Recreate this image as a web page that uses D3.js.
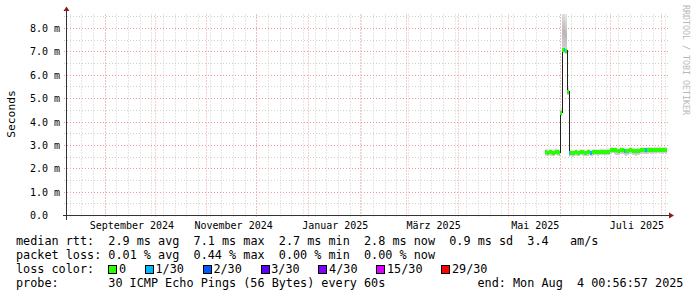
<!DOCTYPE html>
<html>
<head>
<meta charset="utf-8">
<script src="https://cdn.jsdelivr.net/npm/d3@7/dist/d3.min.js"></script>
<style>
  html, body { margin: 0; padding: 0; background: #fff; }
  svg { display: block; }
  text { font-family: "DejaVu Sans Mono", monospace; white-space: pre; }
</style>
</head>
<body>
<div id="chart"></div>
<script>
// smokeping rtt for the last 360 days, one row per day (values in ms)
var firstDay = Date.UTC(2025, 4, 23);
var graphEnd = Date.UTC(2025, 7, 4, 0, 56, 57);

var median = [
  2.70, 2.69, 2.71, 2.70, 2.68, 2.69, 2.72, 2.70, 2.69,
  4.40, 7.10, 7.08, 7.05, 5.30,
  2.67, 2.69, 2.66, 2.67, 2.70, 2.68, 2.69, 2.71, 2.70, 2.69, 2.68, 2.70,
  2.71, 2.69, 2.70, 2.72, 2.71, 2.70, 2.71, 2.73, 2.72, 2.71, 2.72, 2.73, 2.72,
  2.80, 2.81, 2.80, 2.79, 2.77, 2.78, 2.80, 2.79, 2.78, 2.76, 2.77, 2.79, 2.80,
  2.78, 2.77, 2.76, 2.78, 2.77, 2.79, 2.81, 2.80, 2.79, 2.81, 2.82, 2.81, 2.80,
  2.82, 2.81, 2.82, 2.81, 2.82,
  2.81, 2.82, 2.81
];
var smokeLo = [
  2.56, 2.55, 2.57, 2.56, 2.54, 2.55, 2.58, 2.56, 2.55,
  4.25, 6.95, 6.95, 6.92, 5.15,
  2.52, 2.55, 2.51, 2.53, 2.56, 2.54, 2.55, 2.57, 2.55, 2.54, 2.53, 2.56,
  2.57, 2.55, 2.56, 2.58, 2.57, 2.55, 2.57, 2.59, 2.58, 2.56, 2.58, 2.59, 2.58,
  2.64, 2.66, 2.63, 2.60, 2.58, 2.60, 2.63, 2.61, 2.59, 2.56, 2.58, 2.61, 2.63,
  2.60, 2.58, 2.56, 2.59, 2.58, 2.61, 2.65, 2.63, 2.61, 2.64, 2.66, 2.65, 2.63,
  2.66, 2.65, 2.66, 2.64, 2.66,
  2.65, 2.66, 2.65
];
var smokeHi = [
  2.86, 2.85, 2.87, 2.86, 2.84, 2.85, 2.88, 2.86, 2.85,
  4.60, 8.95, 8.90, 8.70, 5.50,
  2.80, 2.83, 2.79, 2.81, 2.84, 2.82, 2.83, 2.86, 2.84, 2.83, 2.82, 2.85,
  2.86, 2.83, 2.84, 2.87, 2.86, 2.84, 2.86, 2.88, 2.87, 2.85, 2.87, 2.88, 2.87,
  2.94, 2.95, 2.93, 2.92, 2.90, 2.91, 2.93, 2.92, 2.91, 2.89, 2.90, 2.92, 2.94,
  2.91, 2.90, 2.89, 2.91, 2.90, 2.92, 2.95, 2.94, 2.92, 2.95, 2.96, 2.95, 2.93,
  2.96, 2.95, 2.96, 2.95, 2.96,
  2.95, 2.96, 2.95
];
// lost pings out of 30
var loss = [
  0, 0, 0, 0, 0, 0, 0, 0, 0,
  0, 0, 1, 0, 0,
  1, 0, 0, 0, 0, 0, 0, 0, 0, 0, 0, 0,
  0, 1, 0, 0, 0, 0, 0, 0, 0, 0, 0, 0, 0,
  0, 0, 0, 0, 0, 0, 0, 0, 1, 0, 0, 0, 0,
  0, 0, 0, 0, 0, 0, 0, 0, 1, 0, 0, 0, 0,
  0, 0, 0, 0, 0,
  0, 0, 0
];

var lossLevels = [0, 1, 2, 3, 4, 15, 29];
var lossLabels = ["0", "1/30", "2/30", "3/30", "4/30", "15/30", "29/30"];
var lossColors = ["#26ff00", "#00b8ff", "#0059ff", "#5e00ff", "#7e00ff", "#dd00ff", "#ff0000"];

var yTicks = [0, 1, 2, 3, 4, 5, 6, 7, 8];
var monthLabels = ["September 2024", "November 2024", "Januar 2025", "März 2025", "Mai 2025", "Juli 2025"];
var monthLabelDates = [Date.UTC(2024, 8, 1), Date.UTC(2024, 10, 1), Date.UTC(2025, 0, 1),
                       Date.UTC(2025, 2, 1), Date.UTC(2025, 4, 1), Date.UTC(2025, 6, 1)];

var rttStats = ["2.9 ms avg", "7.1 ms max", "2.7 ms min", "2.8 ms now", "0.9 ms sd", "3.4   am/s"];
var lossStats = ["0.01 % avg", "0.44 % max", "0.00 % min", "0.00 % now"];
var probeText = "30 ICMP Echo Pings (56 Bytes) every 60s";
var endText = "end: Mon Aug  4 00:56:57 2025";

// ---------------------------------------------------------------
var W = 697, H = 297;
var plotL = 67, plotR = 667, plotT = 14.5, plotB = 215.5;

var svg = d3.select("#chart").append("svg")
  .attr("width", W).attr("height", H);

svg.append("rect").attr("width", W).attr("height", H).attr("fill", "#fff");

var defs = svg.append("defs");
var grad = defs.append("linearGradient").attr("id", "smoke")
  .attr("x1", 0).attr("y1", 0).attr("x2", 0).attr("y2", 1);
grad.append("stop").attr("offset", "0%").attr("stop-color", "#eeeeee");
grad.append("stop").attr("offset", "55%").attr("stop-color", "#b8b8b8");
grad.append("stop").attr("offset", "100%").attr("stop-color", "#d6d6d6");

defs.append("clipPath").attr("id", "plotclip")
  .append("rect").attr("x", plotL).attr("y", plotT - 0.5)
  .attr("width", plotR - plotL).attr("height", plotB - plotT + 1);

var x = d3.scaleUtc()
  .domain([d3.utcDay.offset(new Date(graphEnd), -360), new Date(graphEnd)])
  .range([plotL, plotR]);

var y = d3.scaleLinear()
  .domain([0, 8.6])
  .range([plotB, plotT]);

function crisp(v) { return Math.round(v - 0.5) + 0.5; }

var days = median.map(function (m, i) { return d3.utcDay.offset(new Date(firstDay), i); });

// ---- grid
var grid = svg.append("g");
var yMinor = d3.range(0, 8.6, 0.5).filter(function (v) { return v % 1 !== 0; });
grid.selectAll("line.ymin").data(yMinor).join("line")
  .attr("x1", plotL - 3).attr("x2", plotR + 2)
  .attr("y1", function (d) { return crisp(y(d)); })
  .attr("y2", function (d) { return crisp(y(d)); })
  .attr("stroke", "#cfcfcf").attr("stroke-dasharray", "1,2");

var weeks = d3.utcSunday.range(x.domain()[0], x.domain()[1]);
grid.selectAll("line.xmin").data(weeks).join("line")
  .attr("x1", function (d) { return crisp(x(d)); })
  .attr("x2", function (d) { return crisp(x(d)); })
  .attr("y1", plotT).attr("y2", plotB + 2)
  .attr("stroke", "#cfcfcf").attr("stroke-dasharray", "1,2");

grid.selectAll("line.ymaj").data(yTicks.slice(1)).join("line")
  .attr("x1", plotL - 3).attr("x2", plotR + 2)
  .attr("y1", function (d) { return crisp(y(d)); })
  .attr("y2", function (d) { return crisp(y(d)); })
  .attr("stroke", "#f09a9a").attr("stroke-dasharray", "1,2");

var months = d3.utcMonth.range(x.domain()[0], x.domain()[1]);
grid.selectAll("line.xmaj").data(months).join("line")
  .attr("x1", function (d) { return crisp(x(d)); })
  .attr("x2", function (d) { return crisp(x(d)); })
  .attr("y1", plotT).attr("y2", plotB + 3)
  .attr("stroke", "#f09a9a").attr("stroke-dasharray", "1,2");

// ---- data
var plot = svg.append("g").attr("clip-path", "url(#plotclip)");

function colX0(i) { return Math.round(x(days[i])); }
function colX1(i) { return Math.round(x(d3.utcDay.offset(days[i], 1))); }

plot.selectAll("rect.smoke").data(median).join("rect")
  .attr("x", function (d, i) { return colX0(i); })
  .attr("width", function (d, i) { return colX1(i) - colX0(i); })
  .attr("y", function (d, i) { return y(smokeHi[i]); })
  .attr("height", function (d, i) { return y(smokeLo[i]) - y(smokeHi[i]); })
  .attr("fill", "url(#smoke)")
  .attr("shape-rendering", "crispEdges");

var medLine = d3.line()
  .x(function (d) { return Math.round(x(d[0])) + 0.5; })
  .y(function (d) { return crisp(y(d[1])); })
  .curve(d3.curveStepAfter);
var medPts = days.map(function (d, i) { return [d, median[i]]; });
medPts.push([d3.utcDay.offset(days[days.length - 1], 1), median[median.length - 1]]);
plot.append("path").datum(medPts)
  .attr("d", medLine)
  .attr("fill", "none").attr("stroke", "#202020").attr("stroke-width", 1)
  .attr("shape-rendering", "crispEdges");

function lossColor(l) {
  var c = lossColors[0];
  lossLevels.forEach(function (lv, k) { if (l >= lv) c = lossColors[k]; });
  return c;
}

plot.selectAll("rect.med").data(median).join("rect")
  .attr("x", function (d, i) { return colX0(i); })
  .attr("width", function (d, i) { return colX1(i) - colX0(i); })
  .attr("y", function (d) { return Math.round(y(d)) - 2; })
  .attr("height", 4)
  .attr("fill", function (d, i) { return lossColor(loss[i]); })
  .attr("shape-rendering", "crispEdges");

// ---- axes
var axisG = svg.append("g");
axisG.append("line").attr("x1", plotL - 0.5).attr("x2", plotL - 0.5)
  .attr("y1", plotB + 4).attr("y2", plotT - 4)
  .attr("stroke", "#333").attr("shape-rendering", "crispEdges");
axisG.append("line").attr("x1", plotL - 4).attr("x2", plotR + 3)
  .attr("y1", plotB).attr("y2", plotB)
  .attr("stroke", "#333").attr("shape-rendering", "crispEdges");
axisG.append("path")
  .attr("d", "M" + (plotL - 3.5) + "," + (plotT - 3.5) + "L" + (plotL - 0.5) + "," + (plotT - 8) + "L" + (plotL + 2.5) + "," + (plotT - 3.5) + "Z")
  .attr("fill", "#8c1c1c");
axisG.append("path")
  .attr("d", "M" + (plotR + 2) + "," + (plotB - 3) + "L" + (plotR + 7) + "," + plotB + "L" + (plotR + 2) + "," + (plotB + 3) + "Z")
  .attr("fill", "#8c1c1c");

svg.append("g").selectAll("text").data(yTicks).join("text")
  .attr("x", 30)
  .attr("y", function (d) { return y(d) + 3.5; })
  .attr("font-size", "10px")
  .attr("fill", "#000")
  .text(function (d) { return d === 0 ? "0.0" : d.toFixed(1) + " m"; });

svg.append("g").selectAll("text").data(monthLabels).join("text")
  .attr("x", function (d, i) { return x(d3.utcDay.offset(new Date(monthLabelDates[i]), 16)); })
  .attr("y", 228.5)
  .attr("font-size", "10px")
  .attr("text-anchor", "middle")
  .attr("fill", "#000")
  .text(function (d) { return d; });

svg.append("text")
  .attr("transform", "translate(15,114) rotate(-90)")
  .attr("text-anchor", "middle")
  .attr("font-size", "11.3px")
  .attr("fill", "#000")
  .text("Seconds");

svg.append("text")
  .attr("transform", "translate(683,5) rotate(90)")
  .attr("font-size", "8.3px")
  .attr("fill", "#b8b8b8")
  .text("RRDTOOL / TOBI OETIKER");

// ---- legend
var cw = 7.1, lx = 16, fs = "11.8px";
var legend = svg.append("g").attr("font-size", fs).attr("fill", "#000");

legend.append("text").attr("x", lx).attr("y", 245)
  .text("median rtt:  " + rttStats.join("  "));
legend.append("text").attr("x", lx).attr("y", 259)
  .text("packet loss: " + lossStats.join("  "));
legend.append("text").attr("x", lx).attr("y", 273).text("loss color:");
legend.append("text").attr("x", lx).attr("y", 287).text("probe:");
legend.append("text").attr("x", lx + 13 * cw).attr("y", 287).text(probeText);
legend.append("text").attr("x", lx + 65 * cw).attr("y", 287).text(endText);

var bx = lx + 13 * cw;
lossLabels.forEach(function (lab, k) {
  legend.append("rect")
    .attr("x", Math.round(bx) + 0.5).attr("y", 265.5)
    .attr("width", 8).attr("height", 8)
    .attr("fill", lossColors[k]).attr("stroke", "#000").attr("stroke-width", 1);
  legend.append("text").attr("x", bx + 1.5 * cw).attr("y", 273).text(lab);
  bx += (lab.length + 4.15) * cw;
});
</script>
</body>
</html>
